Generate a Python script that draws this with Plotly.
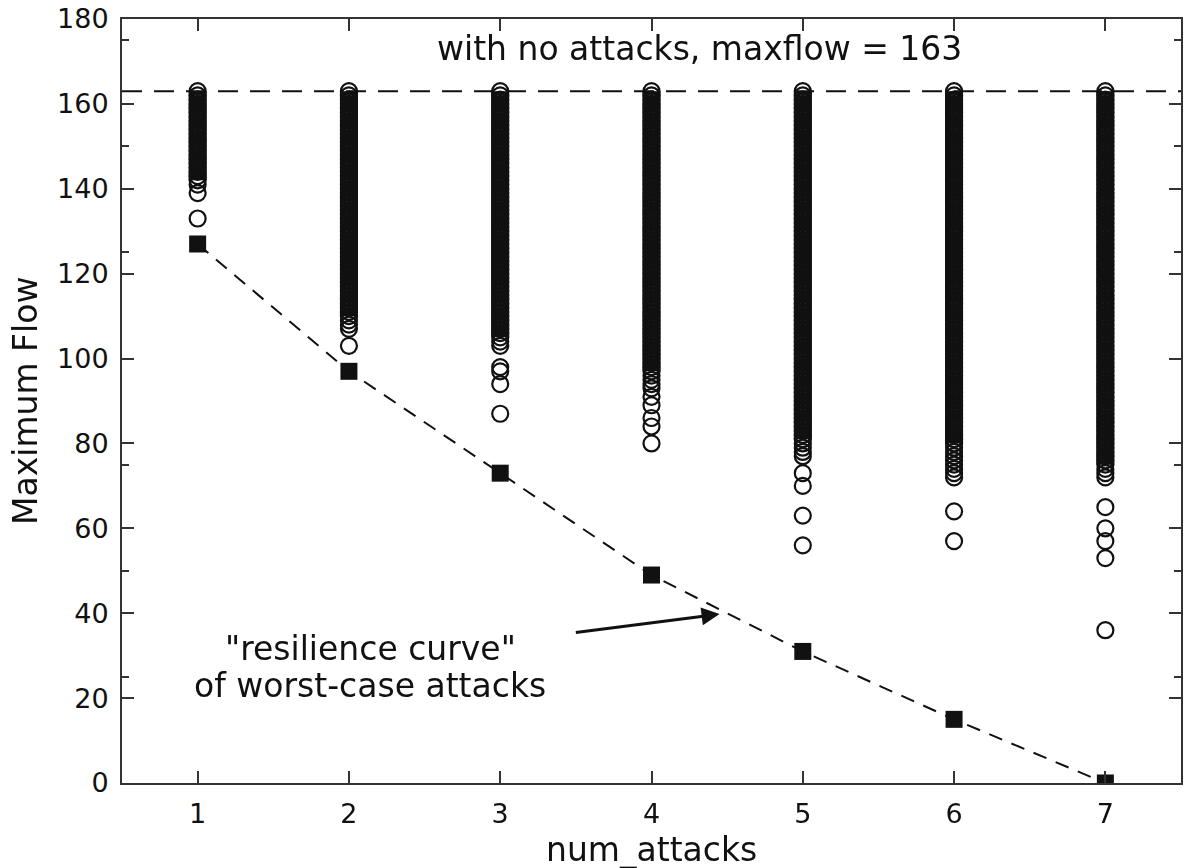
import plotly.graph_objects as go

# ---- data ----
num_attacks = [1, 2, 3, 4, 5, 6, 7]
# each column holds a circle at every integer max-flow value between these limits
dense_low = [141, 107, 103, 93, 77, 72, 72]
dense_high = [163, 163, 163, 163, 163, 163, 163]
# where the stacked circles merge into a solid black column
solid_low = [142, 110, 105, 97, 81, 80, 75]
# isolated circles below the dense columns
outlier_x = [1, 1, 2, 3, 3, 3, 3, 4, 4, 4, 4, 4, 5, 5, 5, 5, 6, 6, 7, 7, 7, 7, 7]
outlier_y = [139, 133, 103, 98, 97, 94, 87, 91, 89, 86, 84, 80, 73, 70, 63, 56, 64, 57, 65, 60, 57, 53, 36]
# worst-case attacks ("resilience curve")
worst_y = [127, 97, 73, 49, 31, 15, 0]
no_attack_maxflow = 163

y_major = [0, 20, 40, 60, 80, 100, 120, 140, 160, 180]
y_minor = [25, 50, 75, 100, 125, 150, 175]

FONT = "DejaVu Sans"
INK = "#111111"
TXT = 33

fig = go.Figure()

# solid parts of the dense columns
for x, lo, hi in zip(num_attacks, solid_low, dense_high):
    fig.add_trace(go.Scatter(
        x=[x, x], y=[lo, hi], mode="lines",
        line=dict(color=INK, width=18), showlegend=False, hoverinfo="skip",
    ))

# expand dense columns into their integer values
cx, cy = [], []
hx, hy = [], []  # hollow centres visible inside the solid parts
for x, lo, hi, slo in zip(num_attacks, dense_low, dense_high, solid_low):
    for v in range(lo, hi + 1):
        cx.append(x)
        cy.append(v)
        if slo < v < hi:
            hx.append(x)
            hy.append(v)
cx += outlier_x
cy += outlier_y

fig.add_trace(go.Scatter(
    x=hx, y=hy, mode="markers",
    marker=dict(symbol="line-ew", size=4, color="white", line=dict(width=1, color="white")),
    opacity=0.55, showlegend=False, hoverinfo="skip",
))

fig.add_trace(go.Scatter(
    x=cx, y=cy, mode="markers",
    marker=dict(symbol="circle-open", size=16, color=INK, line=dict(width=2.2, color=INK)),
    showlegend=False, hoverinfo="x+y",
))

fig.add_trace(go.Scatter(
    x=num_attacks, y=worst_y, mode="lines+markers",
    line=dict(color=INK, width=2, dash="14px,10px"),
    marker=dict(symbol="square", size=17, color=INK, line=dict(width=0)),
    showlegend=False,
))

fig.add_hline(y=no_attack_maxflow, line=dict(color=INK, width=2, dash="20px,12px"))

fig.add_annotation(
    x=4.32, y=173, xref="x", yref="y",
    text="with no attacks, maxflow = %d" % no_attack_maxflow,
    showarrow=False, font=dict(family=FONT, size=TXT, color=INK),
)
fig.add_annotation(
    x=2.14, y=31.6, xref="x", yref="y",
    text="\"resilience curve\"",
    showarrow=False, font=dict(family=FONT, size=TXT, color=INK),
)
fig.add_annotation(
    x=2.14, y=23.0, xref="x", yref="y",
    text="of worst-case attacks",
    showarrow=False, font=dict(family=FONT, size=TXT, color=INK),
)
fig.add_annotation(
    x=4.45, y=39.8, ax=3.49, ay=35.4, xref="x", yref="y", axref="x", ayref="y",
    text="", showarrow=True, arrowhead=2, arrowsize=1.2, arrowwidth=3, arrowcolor=INK,
)

# axis titles
fig.add_annotation(
    x=0.5, y=0, xref="paper", yref="paper", yanchor="top", yshift=-45,
    text="num_attacks", showarrow=False, font=dict(family=FONT, size=TXT, color=INK),
)
fig.add_annotation(
    x=0, y=0.5, xref="paper", yref="paper", xanchor="center", xshift=-97,
    text="Maximum Flow", textangle=-90, showarrow=False,
    font=dict(family=FONT, size=TXT, color=INK),
)

axis_common = dict(
    showline=True, linecolor="#333333", linewidth=2, mirror="ticks",
    ticks="inside", ticklen=12, tickwidth=1.5, tickcolor="#333333",
    showgrid=False, zeroline=False, ticklabeloverflow="allow",
    tickfont=dict(family=FONT, size=27, color=INK),
)

fig.update_xaxes(
    range=[0.5, 7.5], tickmode="array", tickvals=num_attacks,
    ticklabelstandoff=6, **axis_common,
)
fig.update_yaxes(
    range=[0, 180.01], tickmode="array", tickvals=y_major,
    minor=dict(tickmode="array", tickvals=y_minor, ticks="inside", ticklen=7,
               tickwidth=1.5, tickcolor="#333333", showgrid=False),
    ticklabelstandoff=6, **axis_common,
)

fig.update_layout(
    width=1186, height=868,
    margin=dict(l=122, r=3, t=15, b=85),
    paper_bgcolor="white", plot_bgcolor="white",
    font=dict(family=FONT, color=INK),
)

fig.write_html("out.html")
